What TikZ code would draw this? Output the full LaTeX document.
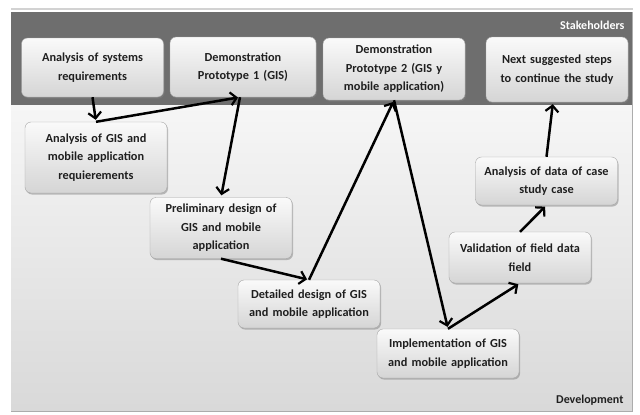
\documentclass[tikz,border=0pt]{standalone}
\usepackage{fontspec}
\setmainfont{Carlito}
\usetikzlibrary{arrows.meta,shadows}

\begin{document}
\begin{tikzpicture}[
    x = 1pt,
    y = -1pt,
    stepbox/.style={draw=gray!70, rounded corners=6pt, top color=gray!4, bottom color=gray!33,
        drop shadow={shadow xshift=1pt, shadow yshift=-1.5pt, fill=black!50, opacity=0.5},
        minimum width=142pt, text width=134pt, align=center, inner sep=3pt,
        font=\bfseries\fontsize{12.3}{18.5}\selectfont, text=black!88},
    steparrow/.style={line width=2.5pt, -{Straight Barb[length=6pt, width=13pt, line width=2.2pt]}, shorten >=2pt},
    bandlabel/.style={anchor=east, font=\bfseries\fontsize{12}{14}\selectfont}
    ]
    \useasboundingbox (0,0) rectangle (640,415);
    % bands
    \fill[gray!35] (11,8) rectangle (633,10);
    \fill[black!57] (11,12) rectangle (632,105);
    \shade[top color=gray!7, bottom color=gray!30] (11,105) rectangle (632,411);
    \draw[gray!65, line width=1.5pt] (11,411.5) -- (632.5,411.5) -- (632.5,12);
    \node[bandlabel, text=white] (stake) at (628,25) {Stakeholders};
    \node[bandlabel, text=black!88] (dev) at (627,400) {Development};

    % steps
    \node[stepbox, minimum height=59pt] (sysreq) at (92.5,67.5) {Analysis of systems\\requirements};
    \node[stepbox, minimum width=146pt, minimum height=60pt] (proto1) at (243,67) {Demonstration\\Prototype 1 (GIS)};
    \node[stepbox, minimum height=62pt] (proto2) at (394,69) {Demonstration\\Prototype 2 (GIS y\\mobile application)};
    \node[stepbox, minimum height=65pt] (nextsteps) at (557,69.5) {Next suggested steps\\to continue the study};
    \node[stepbox, minimum height=71pt] (gisreq) at (96,157.5) {Analysis of GIS and\\mobile application\\requierements};
    \node[stepbox, minimum height=61pt] (prelim) at (221,228) {Preliminary design of\\GIS and mobile\\application};
    \node[stepbox, minimum height=48pt] (detailed) at (309,304) {Detailed design of GIS\\and mobile application};
    \node[stepbox, minimum height=49pt] (implem) at (448,353.5) {Implementation of GIS\\and mobile application};
    \node[stepbox, minimum height=51pt] (validation) at (520,257.5) {Validation of field data\\field};
    \node[stepbox, minimum height=48pt] (dataan) at (546.5,181) {Analysis of data of case\\study case};

    % flow
    \draw[steparrow] (sysreq.south) -- (gisreq.north);
    \draw[steparrow] (gisreq.north) -- ([xshift=-3pt]proto1.south);
    \draw[steparrow] ([xshift=-3pt]proto1.south) -- (prelim.north);
    \draw[steparrow] (prelim.south) -- (detailed.north);
    \draw[steparrow] (detailed.north) -- (proto2.south);
    \draw[steparrow] (proto2.south) -- (implem.north);
    \draw[steparrow] (implem.north) -- (validation.south);
    \draw[steparrow] (validation.north) -- (dataan.south);
    \draw[steparrow] (dataan.north) -- ([xshift=-4pt]nextsteps.south);
\end{tikzpicture}
\end{document}
